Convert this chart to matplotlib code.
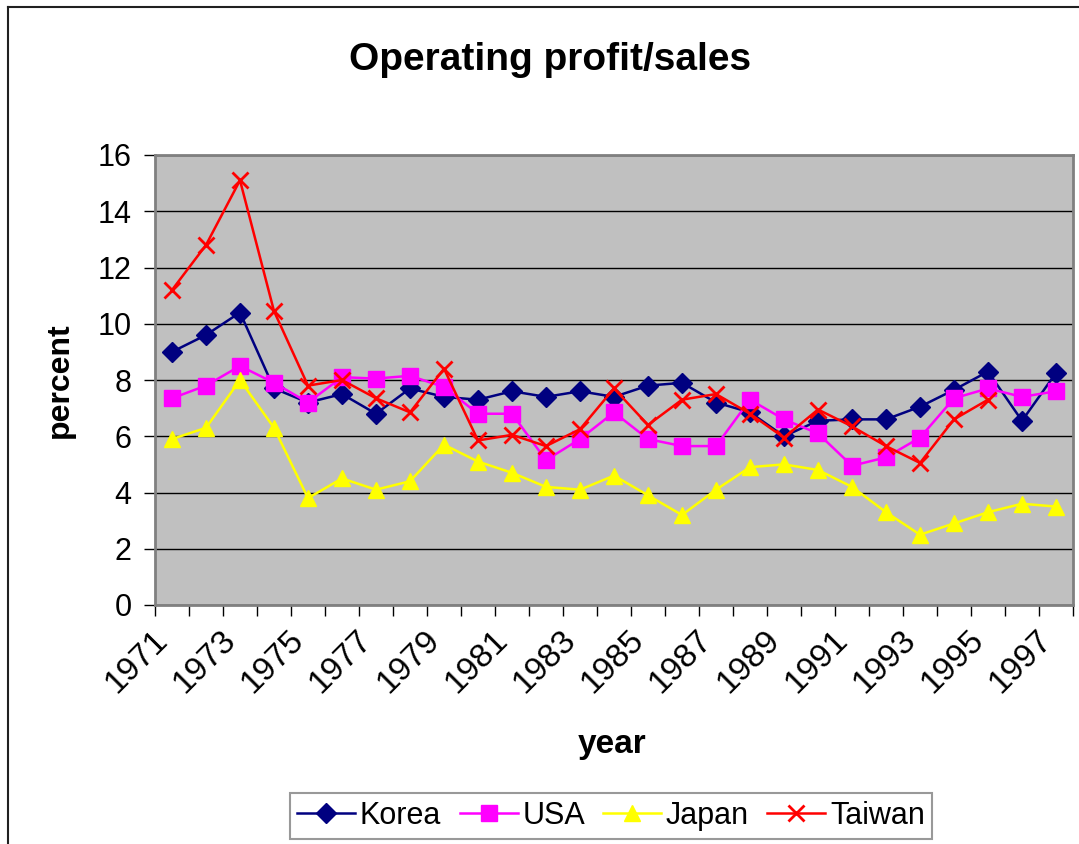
import matplotlib
matplotlib.use('Agg')
import matplotlib.pyplot as plt
import matplotlib.transforms as mtransforms
from matplotlib.lines import Line2D
import numpy as np

plt.rcParams['font.family'] = ['Liberation Sans', 'DejaVu Sans']

years = list(range(1971, 1998))
korea = [9.0, 9.6, 10.4, 7.7, 7.2, 7.5, 6.8, 7.7, 7.4, 7.3, 7.6, 7.4, 7.6, 7.4,
         7.8, 7.9, 7.2, 6.85, 6.0, 6.55, 6.6, 6.6, 7.05, 7.65, 8.3, 6.55, 8.25]
usa = [7.35, 7.8, 8.5, 7.9, 7.2, 8.1, 8.05, 8.15, 7.75, 6.8, 6.8, 5.15, 5.9, 6.85,
       5.9, 5.65, 5.65, 7.3, 6.6, 6.1, 4.95, 5.25, 5.95, 7.35, 7.7, 7.4, 7.6]
japan = [5.9, 6.3, 8.0, 6.3, 3.8, 4.5, 4.1, 4.4, 5.7, 5.1, 4.7, 4.2, 4.1, 4.6,
         3.9, 3.2, 4.1, 4.9, 5.0, 4.8, 4.2, 3.3, 2.5, 2.9, 3.3, 3.6, 3.5]
taiwan = [11.2, 12.8, 15.1, 10.45, 7.8, 8.0, 7.35, 6.85, 8.4, 5.85, 6.05, 5.65, 6.25, 7.7,
          6.4, 7.3, 7.5, 6.8, 5.95, 6.95, 6.35, 5.65, 5.05, 6.6, 7.3, np.nan, np.nan]

series = [
    ('Korea', korea, '#000080', 'D', 10),
    ('USA', usa, '#FF00FF', 's', 11),
    ('Japan', japan, '#FFFF00', '^', 12),
    ('Taiwan', taiwan, '#FF0000', 'x', 11),
]

fig = plt.figure(figsize=(10.79, 8.44), dpi=100)
ax = fig.add_axes([155 / 1079, 1 - 605 / 844, (1073 - 155) / 1079, (605 - 155) / 844])
ax.set_facecolor('#C0C0C0')

x = np.arange(len(years))
handles = []
for name, vals, color, marker, ms in series:
    mew = 2 if marker == 'x' else 1
    ax.plot(x, vals, color=color, marker=marker, markersize=ms, linewidth=1.8,
            markeredgewidth=mew, markeredgecolor=color, markerfacecolor=color, zorder=3)
    handles.append(Line2D([], [], color=color, marker=marker, markersize=ms,
                          linewidth=1.8, markeredgewidth=mew, markerfacecolor=color,
                          markeredgecolor=color, label=name))

ax.set_xlim(-0.5, len(years) - 0.5)
ax.set_ylim(0, 16)
ax.set_yticks(range(0, 17, 2))
ax.yaxis.grid(True, color='black', linewidth=1)
ax.set_axisbelow(True)
ax.tick_params(axis='y', labelsize=22, length=8, width=1, pad=9, colors='black')

# category boundaries get tick marks, every other category gets a label
ax.set_xticks(np.arange(-0.5, len(years), 1), minor=True)
ax.set_xticks(x[::2])
ax.set_xticklabels([str(y) for y in years[::2]], rotation=45, ha='right',
                   rotation_mode='anchor', fontsize=24, va='center')
ax.tick_params(axis='x', which='major', length=0, pad=22)
ax.tick_params(axis='x', which='minor', length=8, width=1)
shift = mtransforms.ScaledTranslation(-9 / 100, 0, fig.dpi_scale_trans)
for lbl in ax.get_xticklabels():
    lbl.set_transform(lbl.get_transform() + shift)

for side in ('top', 'right', 'left', 'bottom'):
    ax.spines[side].set_color('#808080')
    ax.spines[side].set_linewidth(2)

fig.text(550 / 1079, 1 - 60 / 844, 'Operating profit/sales', ha='center', va='center',
         fontsize=28, fontweight='bold')
fig.text(60 / 1079, 1 - 380 / 844, 'percent', ha='center', va='center',
         rotation=90, fontsize=23, fontweight='bold')
fig.text(612 / 1079, 1 - 745 / 844, 'year', ha='center', va='center',
         fontsize=24, fontweight='bold')

leg = fig.legend(handles=handles, loc='center', bbox_to_anchor=(611 / 1079, 1 - 816 / 844),
                 ncol=4, fontsize=22, frameon=True, fancybox=False, handlelength=1.9,
                 handletextpad=0.15, columnspacing=0.6, borderpad=0.25, borderaxespad=0)
leg.get_frame().set_edgecolor('#808080')
leg.get_frame().set_linewidth(1.5)

# chart-area border (cut off at right and bottom)
fig.add_artist(Line2D([8 / 1079, 8 / 1079], [0, 1 - 7 / 844], color='#202020', linewidth=1.5))
fig.add_artist(Line2D([8 / 1079, 1], [1 - 7 / 844, 1 - 7 / 844], color='#202020', linewidth=1.5))

fig.savefig('out.png', dpi=100)
